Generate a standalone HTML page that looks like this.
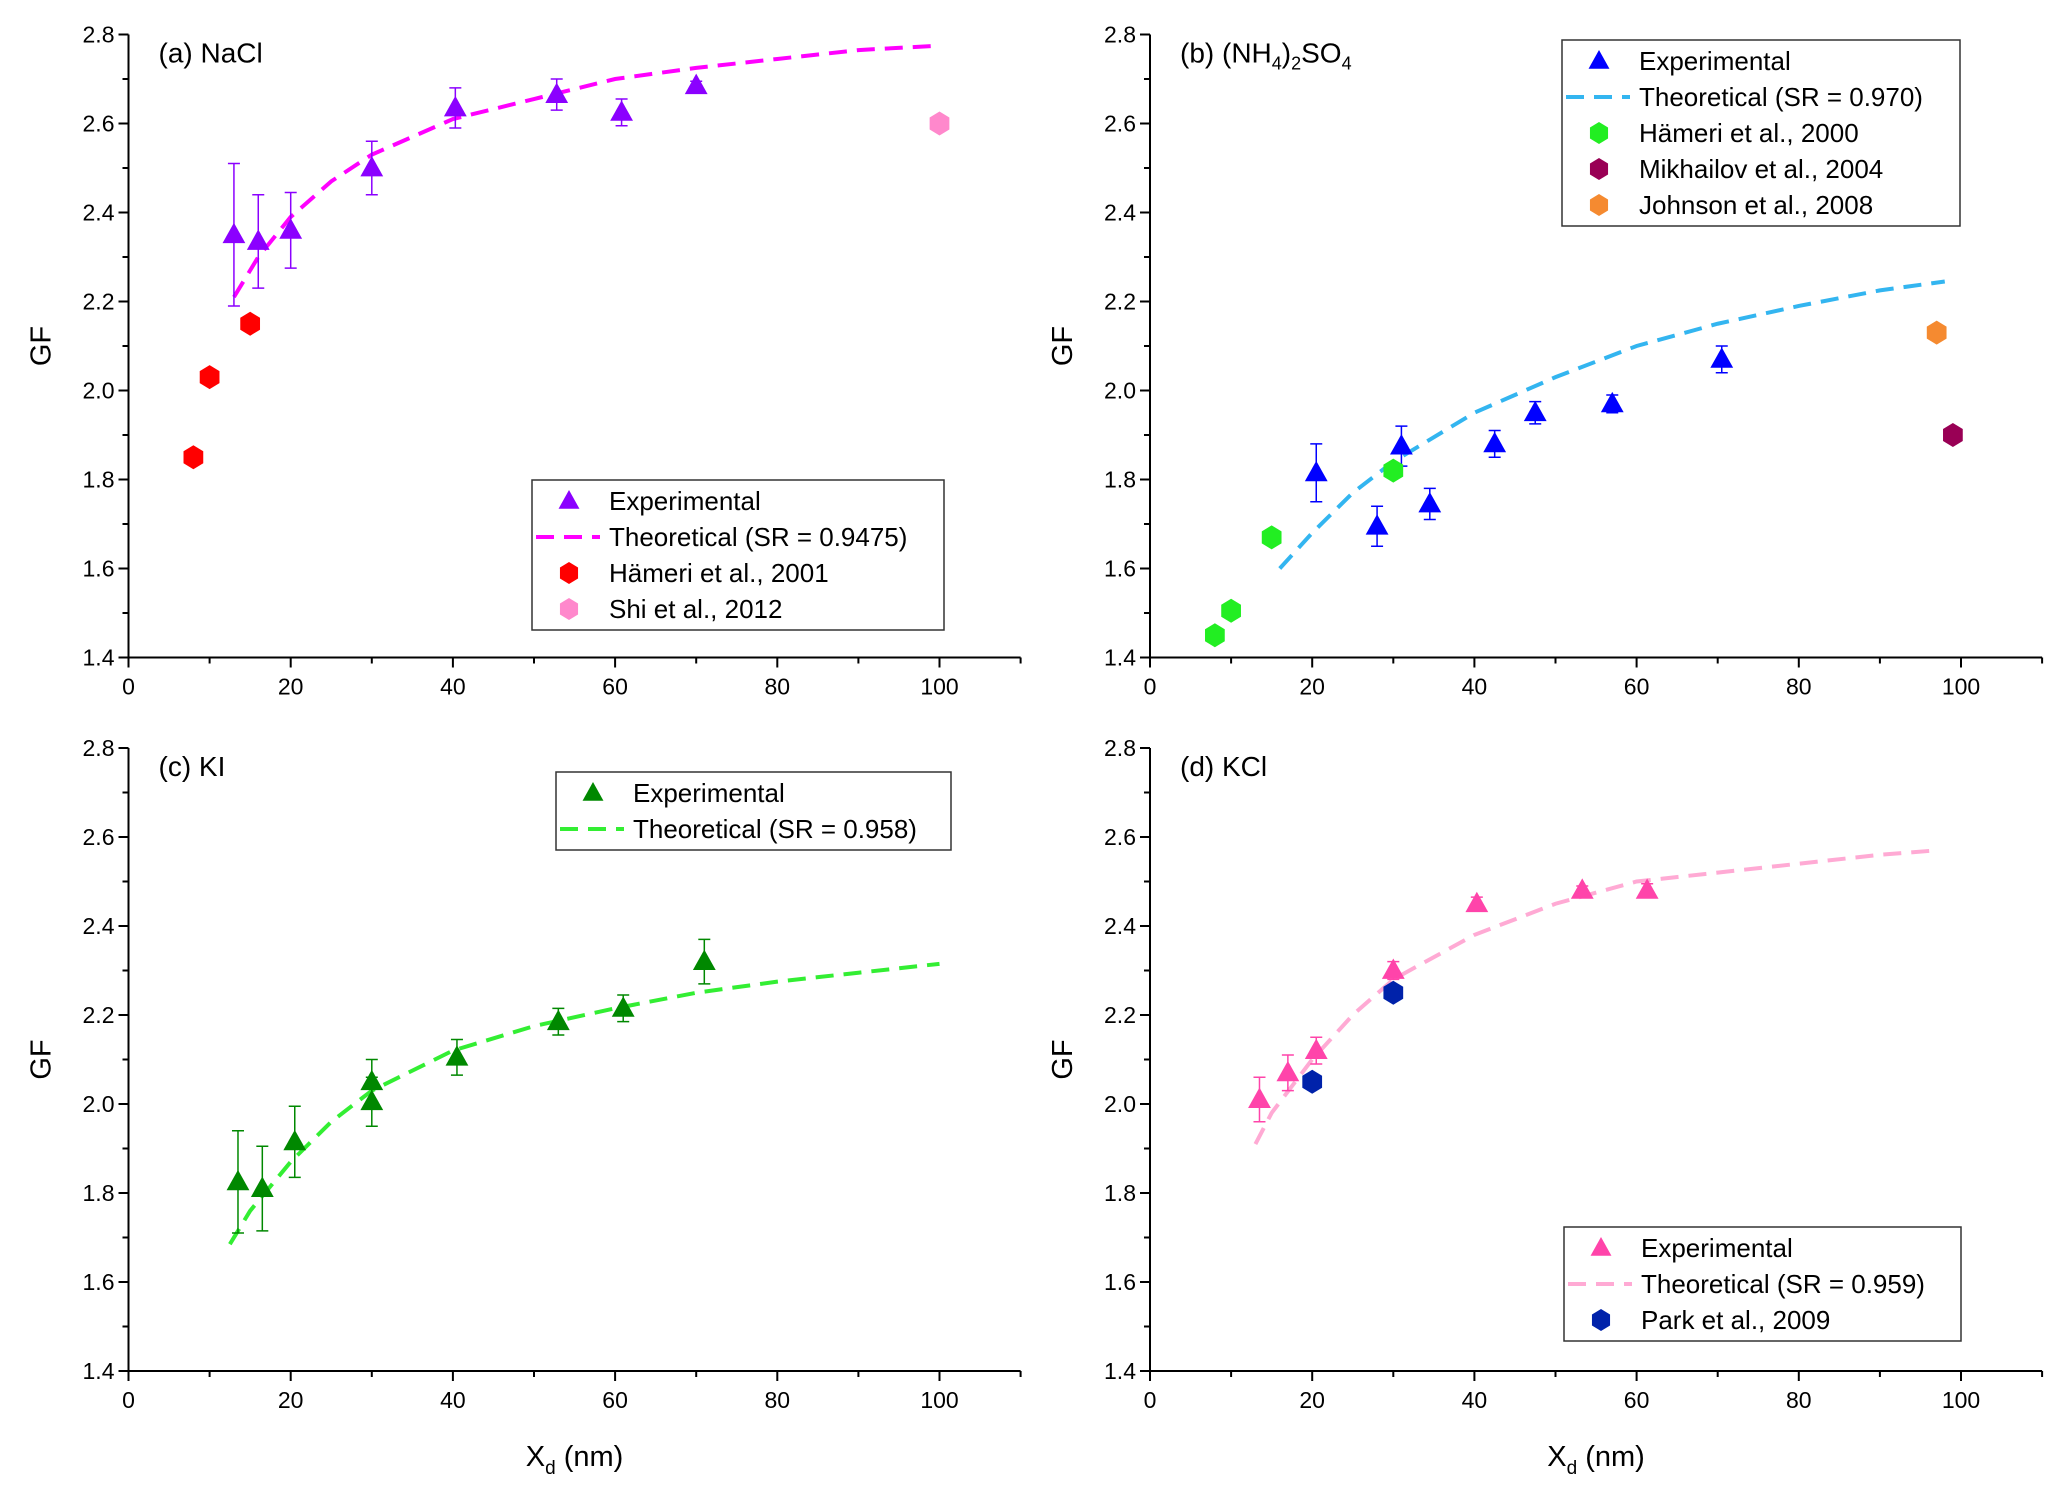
<!DOCTYPE html>
<html><head><meta charset="utf-8"><style>
html,body{margin:0;padding:0;background:#fff}
svg{display:block;font-family:"Liberation Sans",Arial,sans-serif}
</style></head><body>
<svg id="chart" width="2067" height="1500" viewBox="0 0 2067 1500" xmlns="http://www.w3.org/2000/svg"></svg>
<script>
// ---- data ----
const aExpX=[13,16,20,30,40.3,52.8,60.8,70];
const aExpY=[2.35,2.335,2.36,2.5,2.635,2.665,2.625,2.685];
const aExpErr=[0.16,0.105,0.085,0.06,0.045,0.035,0.03,0.01];
const aThX=[13,16,20,25,30,40,50,60,70,80,90,100];
const aThY=[2.21,2.30,2.39,2.47,2.53,2.61,2.655,2.70,2.725,2.745,2.765,2.775];
const aHamX=[8,10,15];const aHamY=[1.85,2.03,2.15];
const aShiX=[100];const aShiY=[2.60];

const bExpX=[20.5,28,31,34.5,42.5,47.5,57,70.5];
const bExpY=[1.815,1.695,1.875,1.745,1.88,1.95,1.97,2.07];
const bExpErr=[0.065,0.045,0.045,0.035,0.03,0.025,0.02,0.03];
const bThX=[16,20,25,30,40,50,60,70,80,90,98];
const bThY=[1.60,1.68,1.77,1.84,1.95,2.03,2.10,2.15,2.19,2.225,2.245];
const bHamX=[8,10,15,30];const bHamY=[1.45,1.505,1.67,1.82];
const bMikX=[99];const bMikY=[1.90];
const bJohX=[97];const bJohY=[2.13];

const cExpX=[13.5,16.5,20.5,30,30,40.5,53,61,71];
const cExpY=[1.825,1.81,1.915,2.05,2.005,2.105,2.185,2.215,2.32];
const cExpErr=[0.115,0.095,0.08,0.05,0.055,0.04,0.03,0.03,0.05];
const cThX=[12.5,15,20,25,30,40,50,60,70,80,90,100];
const cThY=[1.685,1.76,1.87,1.96,2.03,2.12,2.175,2.215,2.25,2.275,2.295,2.315];

const dExpX=[13.5,17,20.5,30,40.3,53.3,61.3];
const dExpY=[2.01,2.07,2.12,2.30,2.45,2.48,2.48];
const dExpErr=[0.05,0.04,0.03,0.02,0.015,0.01,0.015];
const dThX=[13,15,20,25,30,40,50,60,70,80,90,97];
const dThY=[1.91,1.98,2.10,2.20,2.28,2.38,2.45,2.50,2.52,2.54,2.56,2.57];
const dParkX=[20,30];const dParkY=[2.05,2.25];

const xTicks=[0,20,40,60,80,100];
const yTicks=[1.4,1.6,1.8,2.0,2.2,2.4,2.6,2.8];

const NS="http://www.w3.org/2000/svg";
const svg=document.getElementById('chart');
const KX=8.11, H=623;
function mk(tag,attrs,parent){const e=document.createElementNS(NS,tag);for(const k in attrs)e.setAttribute(k,attrs[k]);(parent||svg).appendChild(e);return e;}

function panel(ox,oy,id){
  const x0=ox,x1=ox+KX*110,yTop=oy,yBot=oy+H;
  const sx=v=>x0+v*KX, sy=v=>yBot-(v-1.4)/1.4*H;
  const g=mk('g',{});
  
  
  const ax=mk('path',{d:`M${x0} ${yTop}V${yBot}H${x1}`,stroke:'#000','stroke-width':2,fill:'none'},g);
  
  
  for(let v=0;v<=110;v+=10){const X=sx(v);mk('line',{x1:X,x2:X,y1:yBot,y2:yBot+(v%20==0?10:6),stroke:'#000','stroke-width':2},g);}
  for(let i=0;i<=14;i++){const Y=sy(1.4+i*0.1);mk('line',{x1:x0,x2:x0-(i%2==0?10:6),y1:Y,y2:Y,stroke:'#000','stroke-width':2},g);}
  xTicks.forEach(v=>{const t=mk('text',{x:sx(v),y:yBot+37,'text-anchor':'middle','font-size':23},g);t.textContent=v;
    });
  yTicks.forEach(v=>{const t=mk('text',{x:x0-14,y:sy(v)+8,'text-anchor':'end','font-size':23},g);t.textContent=v.toFixed(1);
    });
  const gf=mk('text',{x:0,y:0,'font-size':29,'text-anchor':'middle',transform:`translate(${x0-78},${(yTop+yBot)/2}) rotate(-90)`},g);
  gf.textContent='GF';
  
  return {g,sx,sy,x0,yTop,yBot};
}
function tri(g,x,y,c,r){mk('path',{d:`M${x} ${y-r}L${x+r*0.95} ${y+r*0.7}L${x-r*0.95} ${y+r*0.7}Z`,fill:c},g);}
function hex(g,x,y,c,r){let d='';for(let i=0;i<6;i++){const a=Math.PI/3*i+Math.PI/6;d+=(i?'L':'M')+(x+r*Math.cos(a)*0.95)+' '+(y+r*Math.sin(a))+' ';}mk('path',{d:d+'Z',fill:c},g);}
function exp(P,X,Y,E,c,name){const g=mk('g',{},P.g);
  X.forEach((v,i)=>{const x=P.sx(v),yt=P.sy(Y[i]+E[i]),yb=P.sy(Y[i]-E[i]);
    mk('path',{d:`M${x} ${yt}V${yb}M${x-6} ${yt}H${x+6}M${x-6} ${yb}H${x+6}`,stroke:c,'stroke-width':1.5,fill:'none'},g);
    tri(g,x,P.sy(Y[i]),c,12);});}
function theo(P,X,Y,c,name){const l=mk('polyline',{points:X.map((v,i)=>P.sx(v)+','+P.sy(Y[i])).join(' '),fill:'none',stroke:c,'stroke-width':4,'stroke-dasharray':'18,10'},P.g);
  }
function hexs(P,X,Y,c,name){const g=mk('g',{},P.g);
  X.forEach((v,i)=>hex(g,P.sx(v),P.sy(Y[i]),c,12));}
function label(P,txt){const t=mk('text',{x:P.x0+30,y:P.yTop+28,'font-size':28},P.g);t.innerHTML=txt;
  }
function legend(P,x,y,w,entries){const g=mk('g',{},P.g);
  mk('rect',{x,y,width:w,height:entries.length*36+6,fill:'#fff',stroke:'#333','stroke-width':1.5},g);
  entries.forEach((e,i)=>{const cy=y+21+i*36;const eg=mk('g',{},g);
    if(e[0]=='tri')tri(eg,x+37,cy,e[1],11);
    else if(e[0]=='hex')hex(eg,x+37,cy,e[1],11);
    else mk('line',{x1:x+4,x2:x+68,y1:cy,y2:cy,stroke:e[1],'stroke-width':4,'stroke-dasharray':'18,10'},eg);
    const t=mk('text',{x:x+77,y:cy+9,'font-size':26},eg);t.textContent=e[2];});}

const A=panel(128.5,34.5,'a');
label(A,'(a) NaCl');
theo(A,aThX,aThY,'#ff00ff','theory-line-a');
exp(A,aExpX,aExpY,aExpErr,'#8b00ff','experimental-a');
hexs(A,aHamX,aHamY,'#ff0000','hameri-2001');
hexs(A,aShiX,aShiY,'#ff88cc','shi-2012');
legend(A,532,480,412,[['tri','#8b00ff','Experimental'],['line','#ff00ff','Theoretical (SR = 0.9475)'],['hex','#ff0000','Hämeri et al., 2001'],['hex','#ff88cc','Shi et al., 2012']]);

const B=panel(1150,34.5,'b');
label(B,'(b) (NH<tspan font-size="18" dy="7">4</tspan><tspan dy="-7">)</tspan><tspan font-size="18" dy="7">2</tspan><tspan dy="-7">SO</tspan><tspan font-size="18" dy="7">4</tspan>');
theo(B,bThX,bThY,'#33b5f0','theory-line-b');
exp(B,bExpX,bExpY,bExpErr,'#0000ff','experimental-b');
hexs(B,bHamX,bHamY,'#22ee22','hameri-2000');
hexs(B,bMikX,bMikY,'#990055','mikhailov-2004');
hexs(B,bJohX,bJohY,'#f58a30','johnson-2008');
legend(B,1562,40,398,[['tri','#0000ff','Experimental'],['line','#33b5f0','Theoretical (SR = 0.970)'],['hex','#22ee22','Hämeri et al., 2000'],['hex','#990055','Mikhailov et al., 2004'],['hex','#f58a30','Johnson et al., 2008']]);

const C=panel(128.5,748,'c');
label(C,'(c) KI');
theo(C,cThX,cThY,'#33ee33','theory-line-c');
exp(C,cExpX,cExpY,cExpErr,'#008800','experimental-c');
legend(C,556,772,395,[['tri','#008800','Experimental'],['line','#33ee33','Theoretical (SR = 0.958)']]);

const D=panel(1150,748,'d');
label(D,'(d) KCl');
theo(D,dThX,dThY,'#ffaad4','theory-line-d');
exp(D,dExpX,dExpY,dExpErr,'#ff44aa','experimental-d');
hexs(D,dParkX,dParkY,'#0022aa','park-2009');
legend(D,1564,1227,397,[['tri','#ff44aa','Experimental'],['line','#ffaad4','Theoretical (SR = 0.959)'],['hex','#0022aa','Park et al., 2009']]);

[[C,'x-axis-title-c'],[D,'x-axis-title-d']].forEach(([P,n])=>{const t=mk('text',{x:P.sx(55),y:1466,'text-anchor':'middle','font-size':29});
  t.innerHTML='X<tspan font-size="19" dy="8">d</tspan><tspan dy="-8"> (nm)</tspan>';
  });
</script>
</body></html>
